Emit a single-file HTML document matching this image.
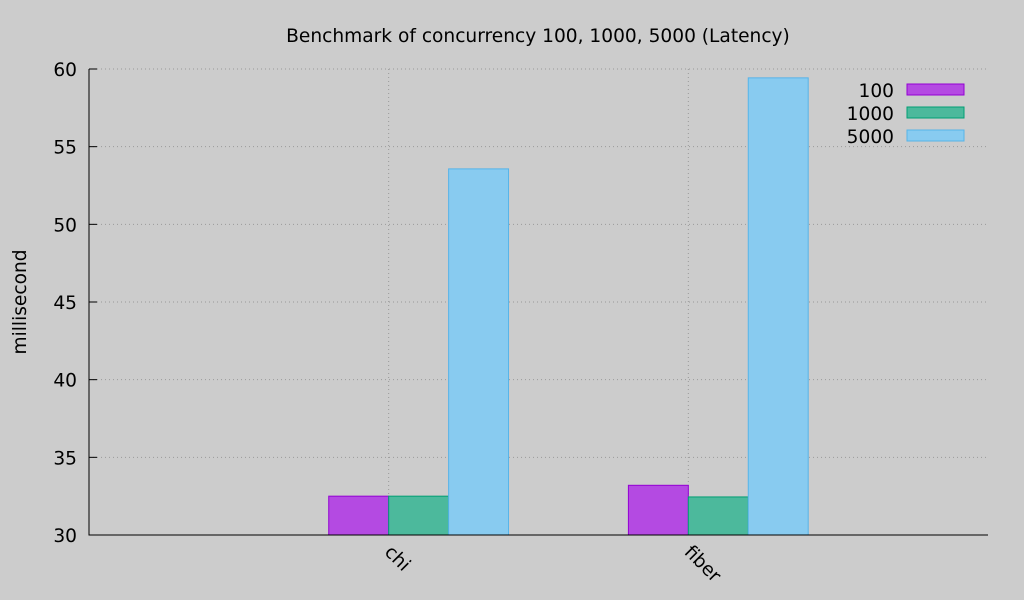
<!DOCTYPE html>
<html><head><meta charset="utf-8"><style>
html,body{margin:0;padding:0;background:#cccccc;}
svg{display:block;font-family:"DejaVu Sans","Liberation Sans",sans-serif;}
</style></head><body>
<svg id="chart" width="1024" height="600">
<rect width="1024" height="600" fill="#cccccc"/>
<text x="538" y="42" font-size="18.6" text-anchor="middle">Benchmark of concurrency 100, 1000, 5000 (Latency)</text>
<text transform="translate(26,302) rotate(-90)" font-size="18.6" text-anchor="middle">millisecond</text>
<g id="grid"></g><g id="bars"></g><g id="axes"></g><g id="legend"></g>
</svg>
<script>
const categories = ["chi", "fiber"];
const seriesNames = ["100", "1000", "5000"];
const values100 = [32.5, 33.2];
const values1000 = [32.5, 32.45];
const values5000 = [53.57, 59.43];
const yTicks = [30, 35, 40, 45, 50, 55, 60];

const NS = "http://www.w3.org/2000/svg";
const L = 89, R = 988, T = 69, B = 535;
const fills = ["#b44ae2", "#4cb99c", "#88cbf0"];
const strokes = ["#9400d3", "#009e73", "#56b4e9"];
const series = [values100, values1000, values5000];
const yMin = 30, yMax = 60, xMin = -1, xMax = 2;
const ys = v => B - (v - yMin) / (yMax - yMin) * (B - T);
const xs = v => L + (v - xMin) / (xMax - xMin) * (R - L);
const unit = (R - L) / (xMax - xMin);
const bw = unit * 0.2;
function mk(tag, attrs, parent) {
  const e = document.createElementNS(NS, tag);
  for (const k in attrs) e.setAttribute(k, attrs[k]);
  document.getElementById(parent).appendChild(e);
  return e;
}
yTicks.forEach(t => {
  const y = ys(t);
  if (t !== yMin) {
    const g = mk("line", {x1: L, x2: R, y1: y, y2: y, stroke: "#999", "stroke-dasharray": "1,3"}, "grid");
    
    
  }
  const tk = mk("line", {x1: L, x2: L + 8, y1: y, y2: y, stroke: "#000"}, "axes");
  
  
  const lb = mk("text", {x: L - 12, y: y + 7, "font-size": 18.6, "text-anchor": "end"}, "axes");
  lb.textContent = t;
  
  
});
categories.forEach((c, i) => {
  const x = xs(i);
  const g = mk("line", {x1: x, x2: x, y1: T, y2: B, stroke: "#999", "stroke-dasharray": "1,3"}, "grid");
  
  
  const lb = mk("text", {x: 0, y: 0, "font-size": 18.6, transform: `translate(${x - 5},${B + 18}) rotate(45)`}, "axes");
  lb.textContent = c;
  
  
  series.forEach((s, j) => {
    const top = ys(s[i]);
    const r = mk("rect", {x: x + (j - 1) * bw, y: top, width: bw, height: B - top, fill: fills[j], stroke: strokes[j], "stroke-width": 1}, "bars");
    
    
  });
});
const ax = mk("path", {d: `M${L},${T} L${L},${B} L${R},${B}`, fill: "none", stroke: "#000"}, "axes");


seriesNames.forEach((n, j) => {
  const y = 84 + j * 23;
  const t = mk("text", {x: 894, y: y + 13, "font-size": 18.6, "text-anchor": "end"}, "legend");
  t.textContent = n;
  
  
  const r = mk("rect", {x: 907, y: y, width: 57, height: 11, fill: fills[j], stroke: strokes[j]}, "legend");
  
  
});
</script>
</body></html>
